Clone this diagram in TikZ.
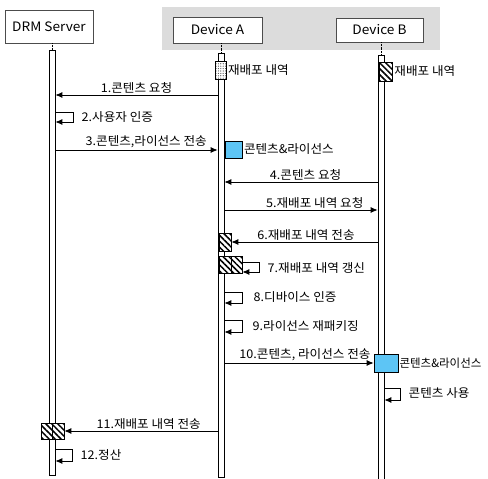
\documentclass[tikz,border=0pt]{standalone}
\usepackage{fontspec}
\setmainfont{Noto Sans CJK KR}[FakeStretch=1.05]
\newfontfamily\plainkr{Noto Sans CJK KR}
\usetikzlibrary{positioning,arrows.meta,patterns,patterns.meta}
\definecolor{licblue}{RGB}{93,197,245}
\definecolor{headgray}{RGB}{220,220,220}

\begin{document}
\begin{tikzpicture}[x=1pt, y=-1pt,
    head/.style={draw=black!70, fill=white, line width=0.7pt, minimum width=88pt, minimum height=26pt,
                font=\fontsize{13}{15}\selectfont},
    lane/.style={draw, fill=white, line width=0.7pt, minimum width=6pt, inner sep=0pt},
    hist/.style={draw, line width=0.7pt, inner sep=0pt, preaction={fill=white},
                pattern={Lines[angle=-45,distance=4.2pt,line width=1.5pt]}},
    dotbox/.style={draw, line width=0.7pt, inner sep=0pt, preaction={fill=white},
                pattern={Dots[distance=2.4pt,radius=0.6pt]}, pattern color=black!70},
    lic/.style={draw, fill=licblue, line width=0.7pt, inner sep=0pt},
    msg/.style={-{Latex[length=7pt,width=6pt]}, line width=0.8pt},
    lbl/.style={font=\fontsize{12}{14}\selectfont, inner sep=1.5pt},
]
\useasboundingbox (0,0) rectangle (488,479);
\fill[headgray] (162,7) rectangle (440,50);
\node[head, minimum height=33pt] (srv) at (49,26.5) {DRM Server};
\node[head, minimum width=89pt] (devA) at (217.5,30) {Device A};
\node[head, minimum width=87pt, minimum height=24pt] (devB) at (379.5,30) {Device B};
\node[lane, minimum height=425pt] (srvLine) at (52,262.5) {};
\node[lane, minimum height=424pt] (aLine) at (221,265) {};
\node[lane, minimum height=427pt] (bLine) at (381,268.5) {};
\draw[densely dotted] (srvLine.north |- srv.south) -- (srvLine.north);
\draw[densely dotted] (aLine.north |- devA.south) -- (aLine.north);
\draw[densely dotted] (bLine.north |- devB.south) -- (bLine.north);
\node[dotbox, minimum width=11pt, minimum height=18pt] (histA) at (220.5,70) {};
\node[hist, minimum width=13pt, minimum height=19pt] (histB) at (385.5,71.5) {};
\node[lbl, anchor=west] at (histA.east) {재배포 내역};
\node[lbl, anchor=west] at (histB.east) {재배포 내역};
\draw[msg] (aLine.west |- 0,95) -- (srvLine.east |- 0,95)
    node[lbl, midway, above] {1.콘텐츠 요청};
\draw[msg] (srvLine.east |- 0,112) -- ++(18,0) -- ++(0,10) -- (srvLine.east |- 0,122);
\node[lbl, anchor=west] at (80,117) {2.사용자 인증};
\draw[msg] (srvLine.east |- 0,150) -- (aLine.west |- 0,150)
    node[lbl, pos=0.56, above] {3.콘텐츠,라이선스 전송};
\node[lic, minimum width=17pt, minimum height=17pt] (licA) at (233.5,149.5) {};
\node[lbl, anchor=west] at (licA.east) {콘텐츠\&라이선스};
\draw[msg] (bLine.west |- 0,182) -- (aLine.east |- 0,182)
    node[lbl, pos=0.47, above] {4.콘텐츠 요청};
\draw[msg] (aLine.east |- 0,210) -- (bLine.west |- 0,210)
    node[lbl, pos=0.59, above] {5.재배포 내역 요청};
\node[hist, minimum width=12pt, minimum height=18pt] (hist6) at (225,242) {};
\draw[msg] (bLine.west |- hist6.east) -- (hist6.east)
    node[lbl, pos=0.49, above] {6.재배포 내역 전송};
\node[hist, minimum width=12pt, minimum height=17pt] (upd7a) at (225,264.5) {};
\node[hist, minimum width=11pt, minimum height=17pt] (upd7b) at (236.5,264.5) {};
\draw[msg] (upd7b.east |- 0,262) -- ++(17,0) -- ++(0,10) -- (upd7b.east |- 0,272);
\node[lbl, anchor=west] at (266,268) {7.재배포 내역 갱신};
\draw[msg] (aLine.east |- 0,292) -- ++(18,0) -- ++(0,11) -- (aLine.east |- 0,303);
\node[lbl, anchor=west] at (252,297) {8.디바이스 인증};
\draw[msg] (aLine.east |- 0,320) -- ++(18,0) -- ++(0,12) -- (aLine.east |- 0,332);
\node[lbl, anchor=west] at (251,326) {9.라이선스 재패키징};
\node[lic, minimum width=24pt, minimum height=18pt] (licB) at (386,363) {};
\draw[msg] (aLine.east |- licB.west) -- (licB.west)
    node[lbl, pos=0.54, above] {10.콘텐츠, 라이선스 전송};
\node[lbl, anchor=west, font=\plainkr\fontsize{11.5}{14}\selectfont, inner sep=1pt] at (licB.east) {콘텐츠\&라이선스};
\draw[msg] (bLine.east |- 0,388) -- ++(16,0) -- ++(0,12) -- (bLine.east |- 0,400);
\node[lbl, anchor=west] at (407,393) {콘텐츠 사용};
\node[hist, minimum width=11pt, minimum height=16pt] (srv11a) at (46.5,431) {};
\node[hist, minimum width=12pt, minimum height=16pt] (srv11b) at (58,431) {};
\draw[msg] (aLine.west |- srv11b.east) -- (srv11b.east)
    node[lbl, pos=0.45, above] {11.재배포 내역 전송};
\draw[msg] (srvLine.east |- 0,449) -- ++(17,0) -- ++(0,12) -- (srvLine.east |- 0,461);
\node[lbl, anchor=west] at (79,455) {12.정산};
\end{tikzpicture}
\end{document}
